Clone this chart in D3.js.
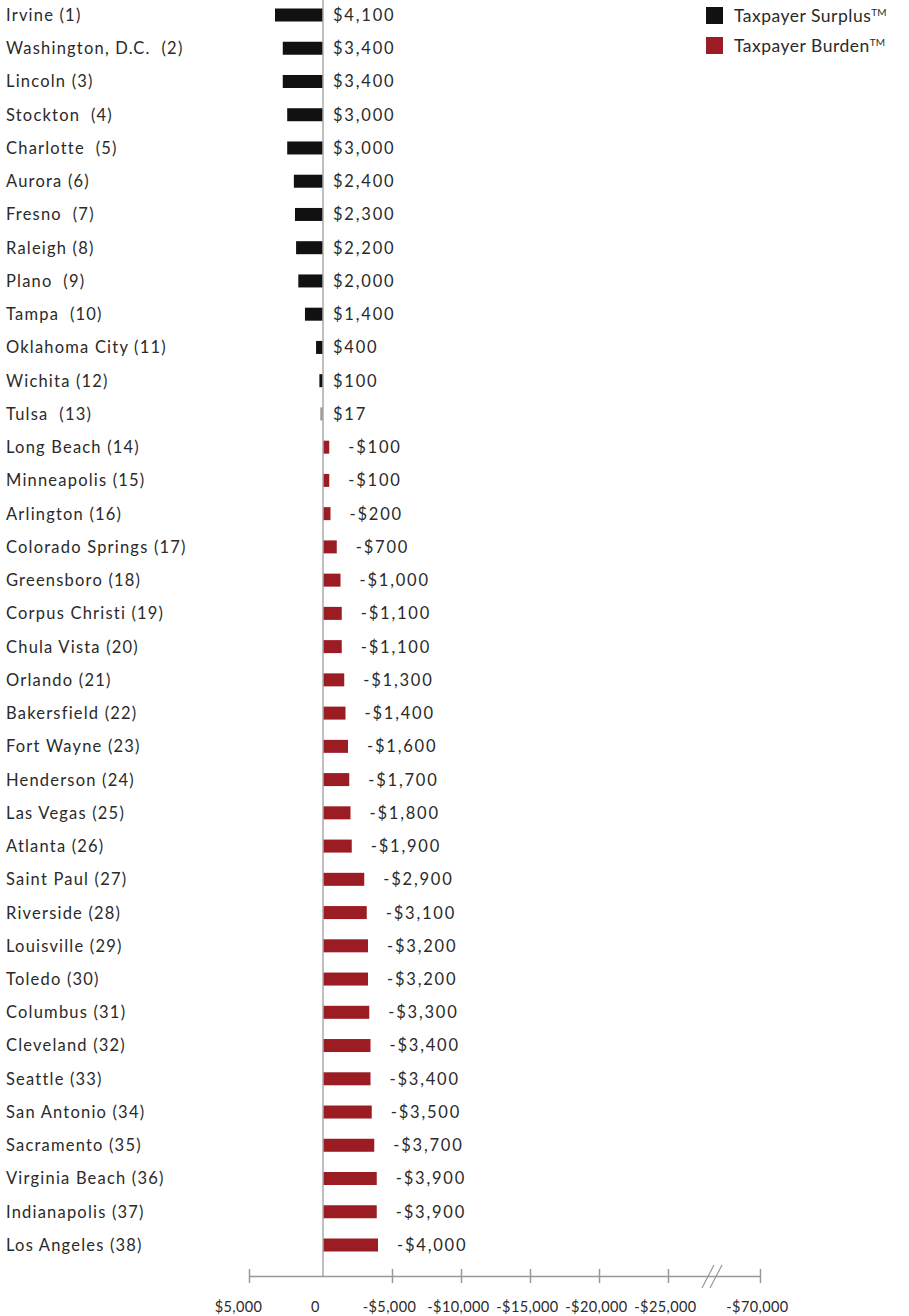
<!DOCTYPE html>
<html>
<head>
<meta charset="utf-8">
<script src="https://cdn.jsdelivr.net/npm/d3@7"></script>
<style>
  body { margin: 0; background: #fff; }
  text { font-family: Lato, "Open Sans", sans-serif; fill: #2a2a2a; }
</style>
</head>
<body>
<div id="chart"></div>
<script>
// city labels as printed (some have a double space before the rank)
var cities = [
  "Irvine (1)", "Washington, D.C.  (2)", "Lincoln (3)", "Stockton  (4)", "Charlotte  (5)",
  "Aurora (6)", "Fresno  (7)", "Raleigh (8)", "Plano  (9)", "Tampa  (10)",
  "Oklahoma City (11)", "Wichita (12)", "Tulsa  (13)", "Long Beach (14)", "Minneapolis (15)",
  "Arlington (16)", "Colorado Springs (17)", "Greensboro (18)", "Corpus Christi (19)", "Chula Vista (20)",
  "Orlando (21)", "Bakersfield (22)", "Fort Wayne (23)", "Henderson (24)", "Las Vegas (25)",
  "Atlanta (26)", "Saint Paul (27)", "Riverside (28)", "Louisville (29)", "Toledo (30)",
  "Columbus (31)", "Cleveland (32)", "Seattle (33)", "San Antonio (34)", "Sacramento (35)",
  "Virginia Beach (36)", "Indianapolis (37)", "Los Angeles (38)"
];
// positive = surplus, negative = burden
var values = [
  4100, 3400, 3400, 3000, 3000,
  2400, 2300, 2200, 2000, 1400,
  400, 100, 17, -100, -100,
  -200, -700, -1000, -1100, -1100,
  -1300, -1400, -1600, -1700, -1800,
  -1900, -2900, -3100, -3200, -3200,
  -3300, -3400, -3400, -3500, -3700,
  -3900, -3900, -4000
];
var tickValues = [5000, 0, -5000, -10000, -15000, -20000, -25000, -70000];
var legendLabels = ["Taxpayer Surplus", "Taxpayer Burden"];
var colors = ["#111111", "#9b1c22"];

var svgWidth = 909, svgHeight = 1316;

var data = cities.map(function(c, i) { return {city: c, value: values[i]}; });

var svg = d3.select("#chart").append("svg")
  .attr("width", svgWidth)
  .attr("height", svgHeight);

// axis, with a break between -25,000 and -70,000
var x = d3.scaleLinear()
  .domain([5000, 0, -25000, -70000])
  .range([249, 323, 668, 760]);

var x0 = x(0);

// the original bars are not drawn to the axis: small values are stretched
var surplusLen = d3.scaleLinear().domain([0, 4100]).range([2.5, 48]);
var burdenLen = d3.scaleLinear().domain([0, 4000]).range([5, 55]);

function barStart(d) { return d.value >= 0 ? x0 - surplusLen(d.value) : x0; }
function barEnd(d) { return d.value >= 0 ? x0 : x0 + burdenLen(-d.value); }

var y = d3.scalePoint()
  .domain(cities)
  .range([15, 1245]);

var barH = 13;
var axisY = 1276;

function money(v) {
  if (v === 0) return "0";
  var s = "$" + d3.format(",")(Math.abs(v));
  return v < 0 ? "-" + s : s;
}

// bars
svg.append("g").selectAll("rect")
  .data(data)
  .enter()
  .append("rect")
  .attr("x", barStart)
  .attr("y", d => y(d.city) - barH / 2)
  .attr("width", d => barEnd(d) - barStart(d))
  .attr("height", barH)
  .attr("fill", d => d.value >= 0 ? (d.value < 50 ? "#999" : colors[0]) : colors[1]);

// zero line
svg.append("line")
  .attr("x1", x0).attr("x2", x0)
  .attr("y1", 0).attr("y2", axisY)
  .attr("stroke", "#aaa")
  .attr("stroke-width", 1.5);

// city labels
svg.append("g").selectAll("text")
  .data(data)
  .enter()
  .append("text")
  .attr("x", 6)
  .attr("y", d => y(d.city))
  .attr("dy", "0.36em")
  .attr("font-size", 16.5)
  .attr("letter-spacing", 1.2)
  .style("white-space", "pre")
  .text(d => d.city);

// value labels
svg.append("g").selectAll("text")
  .data(data)
  .enter()
  .append("text")
  .attr("x", d => d.value >= 0 ? x0 + 10 : barEnd(d) + 19)
  .attr("y", d => y(d.city))
  .attr("dy", "0.36em")
  .attr("font-size", 16.5)
  .attr("letter-spacing", 1.8)
  .text(d => money(d.value));

// bottom axis
var xAxis = d3.axisBottom(x)
  .tickValues(tickValues)
  .tickFormat(money)
  .tickSizeInner(14)
  .tickSizeOuter(0)
  .tickPadding(12);

var axisG = svg.append("g")
  .attr("transform", `translate(0, ${axisY})`)
  .call(xAxis);

axisG.select(".domain").attr("stroke", "#999").attr("stroke-width", 1.5);
axisG.selectAll(".tick line")
  .attr("stroke", "#999")
  .attr("stroke-width", 1.5)
  .attr("y1", -7)
  .attr("y2", 7);
axisG.selectAll(".tick").filter(d => d === 0).select("line").remove();
axisG.selectAll(".tick text")
  .attr("font-family", "Lato, 'Open Sans', sans-serif")
  .attr("font-size", 14.5)
  .attr("letter-spacing", 0.4)
  .attr("dx", d => d > 0 ? -11 : (d === 0 ? -8 : -3))
  .attr("fill", "#222");

// break marks on the axis
var bx = 712;
[-4, 4].forEach(function(off) {
  svg.append("line")
    .attr("x1", bx + off + 6).attr("y1", axisY - 11)
    .attr("x2", bx + off - 6).attr("y2", axisY + 12)
    .attr("stroke", "#999")
    .attr("stroke-width", 1.2);
});

// legend
var legend = svg.append("g").selectAll("g")
  .data(legendLabels)
  .enter()
  .append("g")
  .attr("transform", (d, i) => `translate(706, ${7 + i * 30})`);

legend.append("rect")
  .attr("width", 17)
  .attr("height", 17)
  .attr("fill", (d, i) => colors[i]);

var lt = legend.append("text")
  .attr("x", 28)
  .attr("y", 9)
  .attr("dy", "0.36em")
  .attr("font-size", 17.5)
  .attr("letter-spacing", 0.5)
  .attr("fill", "#333")
  .text(d => d);
lt.append("tspan")
  .attr("dy", "-0.6em")
  .attr("font-size", 10)
  .attr("letter-spacing", 0)
  .text("TM");
</script>
</body>
</html>
